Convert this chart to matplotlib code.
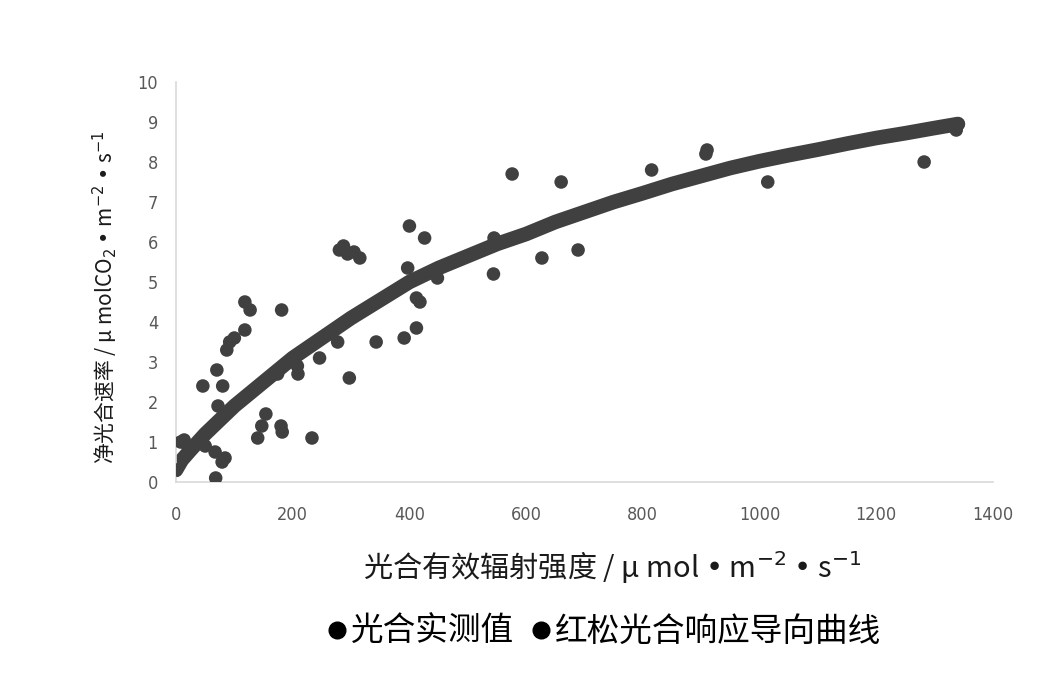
import matplotlib
matplotlib.use("Agg")
import matplotlib.pyplot as plt
from matplotlib.lines import Line2D

# measured points
meas_x = [0, 8, 14, 20, 46, 50, 67, 84, 70, 72, 80, 79, 68, 87, 92, 100, 118, 118, 127,
          140, 147, 154, 174, 181, 180, 182, 209, 208, 233, 246, 277, 280, 287, 294, 305,
          315, 297, 343, 391, 397, 400, 412, 412, 418, 426, 448, 544, 545, 576, 627, 660,
          689, 815, 908, 910, 1014, 1282, 1337, 1337]
meas_y = [0.3, 1.0, 1.05, 0.9, 2.4, 0.9, 0.75, 0.6, 2.8, 1.9, 2.4, 0.5, 0.1, 3.3, 3.5, 3.6,
          3.8, 4.5, 4.3, 1.1, 1.4, 1.7, 2.7, 4.3, 1.4, 1.25, 2.7, 2.9, 1.1, 3.1, 3.5, 5.8,
          5.9, 5.7, 5.75, 5.6, 2.6, 3.5, 3.6, 5.35, 6.4, 3.85, 4.6, 4.5, 6.1, 5.1, 5.2, 6.1,
          7.7, 5.6, 7.5, 5.8, 7.8, 8.2, 8.3, 7.5, 8.0, 8.9, 8.8]

# guide curve
curve_x = [0, 10, 25, 50, 75, 100, 125, 150, 175, 200, 250, 300, 350, 400, 450, 500,
           550, 600, 650, 700, 750, 800, 850, 900, 950, 1000, 1050, 1100, 1150, 1200,
           1250, 1300, 1340]
curve_y = [0.3, 0.55, 0.8, 1.2, 1.55, 1.9, 2.2, 2.5, 2.8, 3.1, 3.6, 4.1, 4.55, 5.0, 5.35,
           5.65, 5.95, 6.2, 6.5, 6.75, 7.0, 7.22, 7.45, 7.65, 7.85, 8.02, 8.17, 8.31,
           8.46, 8.6, 8.72, 8.85, 8.95]

xticks = [0, 200, 400, 600, 800, 1000, 1200, 1400]
yticks = list(range(0, 11))

label1 = "光合实测值"
label2 = "红松光合响应导向曲线"

W, H = 1058, 674
fig = plt.figure(figsize=(W / 100, H / 100), dpi=100)
ax = fig.add_axes([176 / W, 1 - 482 / H, (993 - 176) / W, (482 - 82) / H])

col = "#404040"
ax.plot(curve_x, curve_y, color=col, lw=10.5, solid_capstyle="round",
        solid_joinstyle="round", zorder=2)
ax.scatter(meas_x, meas_y, s=95, color=col, edgecolors="none", zorder=3)

ax.set_xlim(0, 1400)
ax.set_ylim(0, 10)
ax.set_xticks(xticks)
ax.set_yticks(yticks)
for lab in ax.get_xticklabels() + ax.get_yticklabels():
    lab.set_family("DejaVu Sans")
    lab.set_stretch("condensed")
    lab.set_fontsize(13)
    lab.set_color("#595959")
ax.tick_params(axis="both", length=0)
ax.tick_params(axis="x", pad=17)
ax.tick_params(axis="y", pad=13)
for s in ["top", "right"]:
    ax.spines[s].set_visible(False)
for s in ["left", "bottom"]:
    ax.spines[s].set_color("#d9d9d9")
    ax.spines[s].set_linewidth(1.2)

cjk = ["Noto Sans CJK SC", "DejaVu Sans"]
fig.text(612 / W, 1 - 567 / H,
         "光合有效辐射强度 / μ mol • m$^{-2}$ • s$^{-1}$",
         family=cjk, fontsize=21, ha="center", va="center", color="#1a1a1a")
fig.text(105 / W, 1 - 297 / H,
         "净光合速率 / μ molCO$_2$ • m$^{-2}$ • s$^{-1}$",
         family=cjk, fontsize=15, rotation=90, ha="center", va="center", color="#1a1a1a")

handles = [Line2D([], [], ls="none", marker="o", color="black", markersize=12),
           Line2D([], [], ls="none", marker="o", color="black", markersize=12)]
fig.legend(handles, [label1, label2], loc="center", bbox_to_anchor=(605 / W, 1 - 632 / H),
           ncol=2, frameon=False, handlelength=0.5, handletextpad=0.15,
           columnspacing=0.6, prop={"family": cjk, "size": 23.5})

fig.savefig("out.png", dpi=100)
